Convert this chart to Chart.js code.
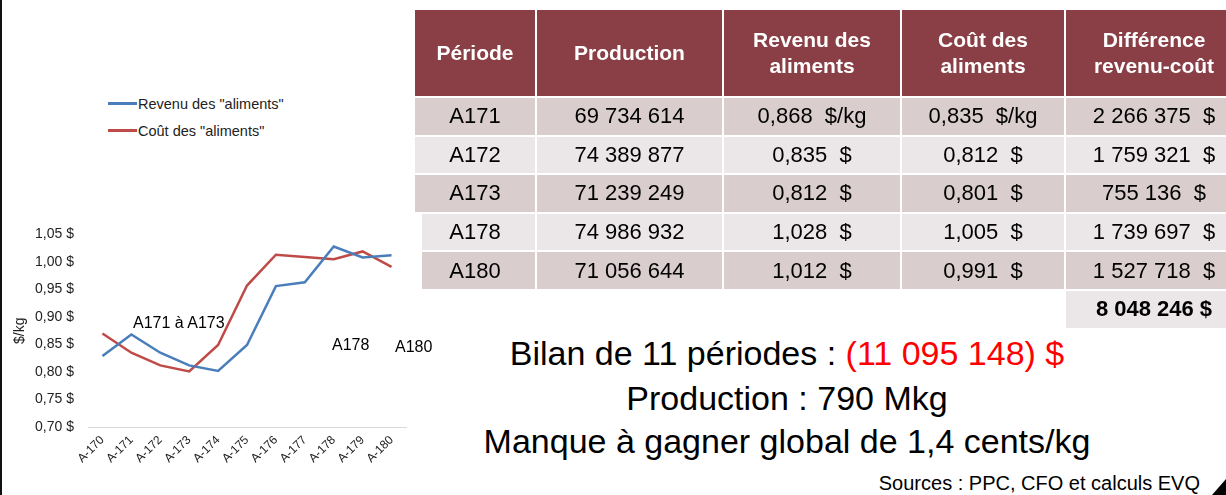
<!DOCTYPE html>
<html lang="fr">
<head>
<meta charset="utf-8">
<script src="https://cdn.jsdelivr.net/npm/chart.js@4.4.1/dist/chart.umd.min.js"></script>
<style>
  html, body { margin: 0; padding: 0; background: #fff; }
  body { width: 1226px; height: 495px; position: relative; overflow: hidden;
         font-family: "Liberation Sans Narrow", "Liberation Sans", sans-serif; }
  #edge { position: absolute; left: 0; top: 0; width: 2px; height: 495px; background: #111; }
  #chartBox { position: absolute; left: 0; top: 212px; width: 430px; height: 283px; }
  #legend { position: absolute; left: 108px; top: 90px; font: 14.5px "Liberation Sans Narrow", "Liberation Sans", sans-serif; color: #222; }
  .leg { display: flex; align-items: center; height: 27px; }
  .leg i { display: inline-block; width: 29px; height: 3px; margin-right: 1px; }
  .note { position: absolute; font: 16px "Liberation Sans", sans-serif; color: #000; white-space: nowrap; }
  #tbl { position: absolute; left: 415px; top: 10px; border-collapse: separate; border-spacing: 0;
         table-layout: fixed; width: 829px; }
  #tbl th, #tbl td { border-right: 2px solid #fff; border-bottom: 2px solid #fff; text-align: center;
         padding: 0; white-space: nowrap; }
  #tbl th { background: #893F45; color: #fff; font-weight: bold; font-size: 21px; height: 86px; line-height: 26px; }
  #tbl td { height: 36.6px; font-size: 22px; color: #000; }
  #tbl tr.odd td { background: #D9CDCE; }
  #tbl tr.even td { background: #EBE6E7; }
  #tbl tr.shift td:first-child.odd-c { background: linear-gradient(to right, #fff 0 7px, #D9CDCE 7px); }
  #tbl tr.shift td:first-child.even-c { background: linear-gradient(to right, #fff 0 7px, #EBE6E7 7px); }
  #tbl tr.total td { background: #fff; }
  #tbl tr.total td.sum { background: #EBE6E7; font-weight: bold; }
  .big { position: absolute; left: 787px; transform: translate(-50%, -50%); font-size: 34px; white-space: nowrap; color: #000; }
  .red { color: #FF0000; }
  #src { position: absolute; right: 26px; top: 472px; font-size: 20px; white-space: nowrap; color: #000; }
  #grip { position: absolute; left: 1212px; top: 479px; width: 0; height: 0;
          border-left: 14px solid transparent; border-bottom: 16px solid #000; }
</style>
</head>
<body>
<div id="edge"></div>
<div id="legend"></div>
<div id="chartBox"><canvas id="chart"></canvas></div>
<div class="note" style="left:133px; top:314px;">A171 à A173</div>
<div class="note" style="left:332px; top:336px;">A178</div>
<div class="note" style="left:395px; top:338px;">A180</div>

<table id="tbl">
  <colgroup>
    <col style="width:122px"><col style="width:187px"><col style="width:178px"><col style="width:164px"><col style="width:178px">
  </colgroup>
  <thead><tr id="head"></tr></thead>
  <tbody id="body"></tbody>
</table>

<div class="big" style="top:353px;">Bilan de 11 périodes : <span class="red">(11 095 148) $</span></div>
<div class="big" style="top:398px;">Production : 790 Mkg</div>
<div class="big" style="top:441px;">Manque à gagner global de 1,4 cents/kg</div>
<div id="src">Sources : PPC, CFO et calculs EVQ</div>
<div id="grip"></div>

<script>
// chart data
const categories = ['A-170', 'A-171', 'A-172', 'A-173', 'A-174', 'A-175', 'A-176', 'A-177', 'A-178', 'A-179', 'A-180'];
const revenu = [0.829, 0.868, 0.835, 0.812, 0.802, 0.849, 0.956, 0.963, 1.028, 1.008, 1.012];
const cout = [0.870, 0.835, 0.812, 0.801, 0.849, 0.957, 1.013, 1.009, 1.005, 1.019, 0.991];
const seriesNames = ['Revenu des "aliments"', 'Coût des "aliments"'];
const seriesColors = ['#4A7EBB', '#BE4B48'];

// table data
const headers = ['Période', 'Production', 'Revenu des<br>aliments', 'Coût des<br>aliments', 'Différence<br>revenu-coût'];
const periodes = ['A171', 'A172', 'A173', 'A178', 'A180'];
const production = ['69 734 614', '74 389 877', '71 239 249', '74 986 932', '71 056 644'];
const revenuTxt = ['0,868&nbsp; $/kg', '0,835&nbsp; $', '0,812&nbsp; $', '1,028&nbsp; $', '1,012&nbsp; $'];
const coutTxt = ['0,835&nbsp; $/kg', '0,812&nbsp; $', '0,801&nbsp; $', '1,005&nbsp; $', '0,991&nbsp; $'];
const difference = ['2 266 375&nbsp; $', '1 759 321&nbsp; $', '755 136&nbsp; $', '1 739 697&nbsp; $', '1 527 718&nbsp; $'];
const total = '8 048 246 $';

// build table
document.getElementById('head').innerHTML = headers.map(h => '<th>' + h + '</th>').join('');
let rows = '';
periodes.forEach((p, i) => {
  const cls = i % 2 === 0 ? 'odd' : 'even';
  const shift = i >= 3 ? ' shift' : '';
  rows += '<tr class="' + cls + shift + '">' +
    '<td class="' + cls + '-c">' + p + '</td><td>' + production[i] + '</td><td>' + revenuTxt[i] +
    '</td><td>' + coutTxt[i] + '</td><td>' + difference[i] + '</td></tr>';
});
rows += '<tr class="total"><td></td><td></td><td></td><td></td><td class="sum">' + total + '</td></tr>';
document.getElementById('body').innerHTML = rows;

// legend
document.getElementById('legend').innerHTML = seriesNames.map((n, i) =>
  '<div class="leg"><i style="background:' + seriesColors[i] + '"></i>' + n + '</div>').join('');

Chart.defaults.font.family = '"Liberation Sans Narrow", "Liberation Sans", sans-serif';
Chart.defaults.color = '#222';

const ctx = document.getElementById('chart').getContext('2d');
new Chart(ctx, {
  type: 'line',
  data: {
    labels: categories,
    datasets: [
      { label: seriesNames[0], data: revenu, borderColor: seriesColors[0], backgroundColor: seriesColors[0],
        borderWidth: 2.5, pointRadius: 0, tension: 0 },
      { label: seriesNames[1], data: cout, borderColor: seriesColors[1], backgroundColor: seriesColors[1],
        borderWidth: 2.5, pointRadius: 0, tension: 0 }
    ]
  },
  options: {
    responsive: true,
    maintainAspectRatio: false,
    animation: false,
    layout: { padding: { left: 0, right: 24, top: 5, bottom: 0 } },
    plugins: { legend: { display: false }, tooltip: { enabled: false } },
    scales: {
      x: {
        offset: true,
        grid: { display: false, drawTicks: false },
        border: { display: true, color: '#D9D9D9', width: 1 },
        ticks: { minRotation: 45, maxRotation: 45, autoSkip: false, padding: 6, font: { size: 12 } },
        afterFit: s => { s.height = 68; }
      },
      y: {
        min: 0.70,
        max: 1.05,
        grid: { display: false, drawTicks: false },
        border: { display: false },
        ticks: { stepSize: 0.05, padding: 14, font: { size: 14 },
                 callback: v => v.toFixed(2).replace('.', ',') + ' $' },
        title: { display: true, text: '$/kg', font: { size: 14 }, padding: { top: 12, bottom: 0 } },
        afterFit: s => { s.width = 88; }
      }
    }
  }
});
</script>
</body>
</html>
